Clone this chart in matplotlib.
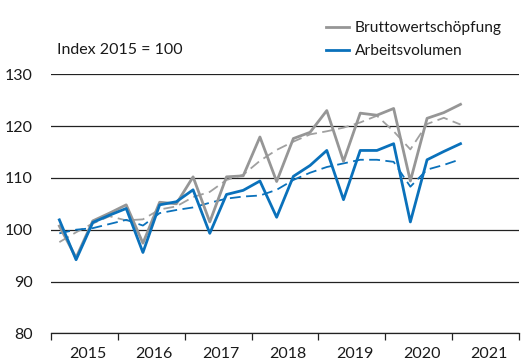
import matplotlib
matplotlib.use("Agg")
import matplotlib.pyplot as plt
import matplotlib.transforms as mtransforms
import numpy as np

# Quarterly index values, 2015 Q1 to 2021 Q1 (Index 2015 = 100)
quarters = [f"{y}Q{q}" for y in range(2015, 2022) for q in range(1, 5)][:25]
bruttowertschoepfung = [100.7, 94.6, 101.7, 103.2, 104.8, 97.4, 105.3, 105.0, 110.2, 101.5,
                        110.2, 110.4, 117.9, 109.3, 117.6, 118.8, 123.0, 113.2, 122.5, 122.1,
                        123.4, 109.4, 121.5, 122.6, 124.2]
bws_bereinigt = [97.6, 99.5, 101.2, 102.6, 101.8, 102.0, 103.9, 104.5, 106.3, 107.3,
                 109.6, 110.6, 113.3, 115.4, 117.0, 118.4, 119.0, 119.7, 120.7, 122.0,
                 119.0, 115.5, 120.4, 121.6, 120.3]
arbeitsvolumen = [101.9, 94.2, 101.4, 102.8, 104.1, 95.6, 104.8, 105.4, 107.7, 99.3,
                  106.8, 107.6, 109.4, 102.4, 110.3, 112.4, 115.3, 105.8, 115.3, 115.3,
                  116.6, 101.5, 113.5, 115.1, 116.6]
av_bereinigt = [99.3, 100.0, 100.3, 101.1, 101.9, 100.8, 103.2, 103.8, 104.3, 105.2,
                106.0, 106.4, 106.6, 107.7, 109.6, 111.0, 112.1, 112.8, 113.5, 113.5,
                113.1, 108.3, 111.6, 112.5, 113.6]
years = list(range(2015, 2022))

plt.rcParams['font.family'] = ['Lato', 'DejaVu Sans']
text_color = '#1a1a1a'
grey = '#969696'
blue = '#0a71bb'

# x position = middle of each quarter
x = np.array([int(q[:4]) + (int(q[-1]) - 0.5) / 4 for q in quarters])

fig = plt.figure(figsize=(5.31, 3.64), dpi=100)
ax = fig.add_axes([51 / 531, 1 - 333.3 / 364, 468 / 531, (333.3 - 74.3) / 364])

ax.plot(x, bws_bereinigt, color='#a0a0a0', lw=1.3, dashes=(6, 3), zorder=3)
ax.plot(x, av_bereinigt, color=blue, lw=1.3, dashes=(6, 3), zorder=3)
ax.plot(x, bruttowertschoepfung, color=grey, lw=2.0, label='Bruttowertschöpfung', zorder=4)
ax.plot(x, arbeitsvolumen, color=blue, lw=2.0, label='Arbeitsvolumen', zorder=5)

ax.set_xlim(2015, 2022)
ax.set_ylim(80, 130)
ax.set_yticks(range(80, 131, 10))
ax.yaxis.grid(True, color='#222222', lw=0.9)
ax.set_axisbelow(True)
for side in ['left', 'right', 'top']:
    ax.spines[side].set_visible(False)
ax.spines['bottom'].set_color('#222222')
ax.spines['bottom'].set_linewidth(0.9)

# year boundaries as ticks, labels in the middle of each year
ax.set_xticks(range(2015, 2023))
ax.set_xticklabels([])
ax.set_xticks([y + 0.5 for y in years], minor=True)
ax.set_xticklabels([str(y) for y in years], minor=True)
ax.tick_params(axis='x', which='major', length=5, width=0.9, color='#222222', direction='out')
ax.tick_params(axis='x', which='minor', length=0, pad=10, labelsize=11.5, labelcolor=text_color)
ax.tick_params(axis='y', length=0, pad=13, labelsize=11.5, labelcolor=text_color)
shift = mtransforms.ScaledTranslation(3 / 100, 0, fig.dpi_scale_trans)
for lbl in ax.xaxis.get_minorticklabels():
    lbl.set_transform(lbl.get_transform() + shift)

fig.text(57 / 531, 1 - 50 / 364, 'Index 2015 = 100', fontsize=11.5, color=text_color, va='center')

fig.legend(loc='upper left', bbox_to_anchor=(326 / 531, 1 - 21 / 364), frameon=False,
           fontsize=11.2, handlelength=1.5, handletextpad=0.35, labelspacing=0.6,
           borderaxespad=0, borderpad=0, labelcolor=text_color)

fig.savefig('out.png', dpi=100)
